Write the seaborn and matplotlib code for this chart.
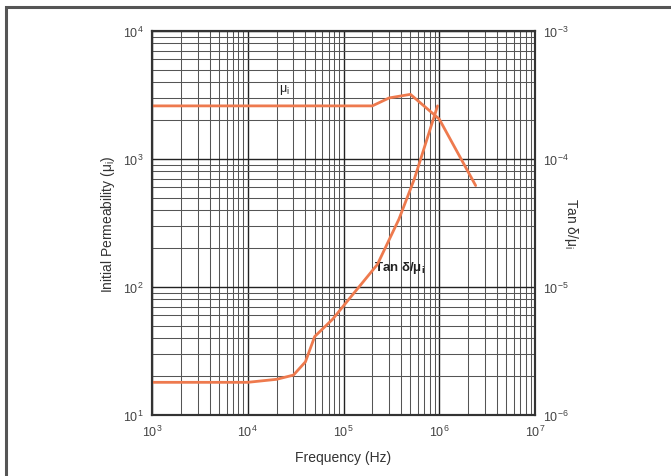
import numpy as np
import pandas as pd
import matplotlib
matplotlib.use("Agg")
import matplotlib.pyplot as plt
from matplotlib.patches import Rectangle
import seaborn as sns

# initial permeability curve (left axis)
mu_freq = [1e3, 1e4, 1e5, 2e5, 3e5, 5e5, 8.2e5, 1e6, 2.4e6]
mu_vals = [2600, 2600, 2600, 2600, 3000, 3200, 2330, 2050, 620]

# loss factor curve (right axis)
tan_freq = [1e3, 1e4, 2e4, 3e4, 4e4, 5e4, 7.7e4, 1.15e5, 2.26e5, 3.8e5, 5.5e5, 9.6e5]
tan_vals = [1.8e-6, 1.8e-6, 1.9e-6, 2.05e-6, 2.6e-6, 4.1e-6, 5.6e-6, 8.1e-6,
            1.5e-5, 3.4e-5, 7e-5, 2.6e-4]

sns.set_style("white")
plt.rcParams["font.family"] = ["Liberation Sans", "DejaVu Sans"]

line_col = "#EE7A4E"
tick_col = "#444444"

fig = plt.figure(figsize=(6.71, 4.77), dpi=100)
ax = fig.add_axes([152 / 671, 1 - 416 / 477, (535 - 152) / 671, (416 - 32) / 477])

# outer frame of the figure (cut off at right and bottom)
fig.patches.append(Rectangle((6 / 671, -0.2), 1.2, 1.2 - 8 / 477,
                             transform=fig.transFigure, fill=False,
                             edgecolor="#555555", linewidth=2.2))

sns.lineplot(x=mu_freq, y=mu_vals, ax=ax, color=line_col, linewidth=2)
ax.set_xscale("log")
ax.set_yscale("log")
ax.set_xlim(1e3, 1e7)
ax.set_ylim(1e1, 1e4)

ax.grid(True, which="major", color="#222222", linewidth=1.0)
ax.grid(True, which="minor", color="#555555", linewidth=0.75)
ax.set_axisbelow(True)

ax2 = ax.twinx()
sns.lineplot(x=tan_freq, y=tan_vals, ax=ax2, color=line_col, linewidth=2)
ax2.set_yscale("log")
ax2.set_ylim(1e-6, 1e-3)
ax2.set_xlim(1e3, 1e7)

for a in (ax, ax2):
    a.tick_params(which="both", length=0, labelsize=9, colors=tick_col, pad=6)
    for s in a.spines.values():
        s.set_color("#333333")
        s.set_linewidth(1.5)

ax.set_xlabel("Frequency (Hz)", fontsize=10, color="#333333", labelpad=8)
ax.set_ylabel("Initial Permeability (μ$_\\mathregular{i}$)", fontsize=10, color="#333333", labelpad=4)
ax2.set_ylabel("Tan δ/μ$_\\mathregular{i}$", fontsize=10, color="#333333",
               rotation=270, labelpad=8)

ax.text(2.4e4, 3500, "μ$_\\mathregular{i}$", fontsize=9, color="#222222",
        ha="center", va="center")
ax.text(2.1e5, 144, "Tan δ/μ$_\\mathregular{i}$", fontsize=9.5, fontweight="bold",
        color="#222222", ha="left", va="center")

fig.savefig("out.png", dpi=100)
